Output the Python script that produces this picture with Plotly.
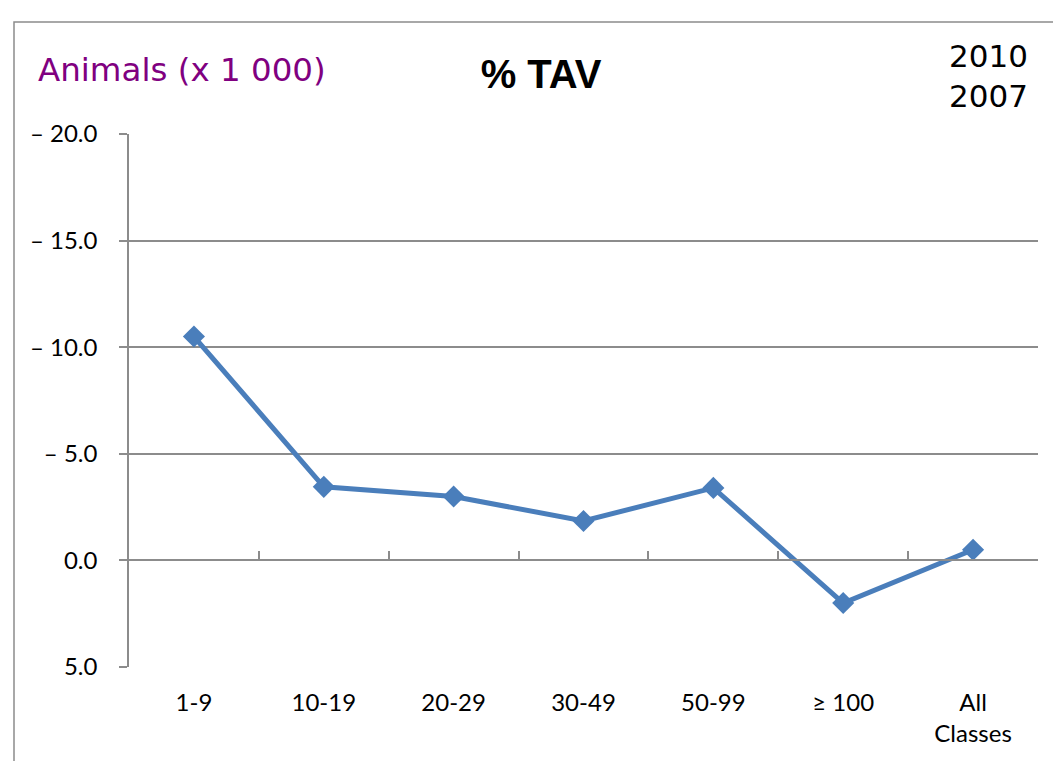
import plotly.graph_objects as go

categories = ["1-9", "10-19", "20-29", "30-49", "50-99", "≥ 100", "All<br>Classes"]
values = [-10.5, -3.45, -3.0, -1.85, -3.4, 2.0, -0.5]
ytick_vals = [-20, -15, -10, -5, 0, 5]
ytick_text = ["– 20.0", "– 15.0", "– 10.0", "– 5.0", "0.0", "5.0"]

tick_font = dict(family="Lato, Open Sans, sans-serif", size=24, color="black")

# page body has an 8px margin; figure is sized to fit inside the window
W, H = 1053, 753
L, R, T, B = 121, 23, 126, 94
PW, PH = W - L - R, H - T - B


def px_x(x):  # reference page x -> paper fraction
    return (x - 8 - L) / PW


def px_y(y):  # reference page y -> paper fraction
    return (H - B - (y - 8)) / PH


fig = go.Figure()
fig.add_trace(go.Scatter(
    x=list(range(len(categories))), y=values, mode="lines+markers",
    line=dict(color="#4a7ebb", width=5),
    marker=dict(symbol="diamond", size=17, color="#4a7ebb"),
    showlegend=False,
))
# secondary x-axis at y=0 with category-boundary ticks
fig.add_trace(go.Scatter(x=[0], y=[None], xaxis="x2", showlegend=False, hoverinfo="skip"))

fig.update_layout(
    width=W, height=H,
    margin=dict(l=L, r=R, t=T, b=B),
    paper_bgcolor="white", plot_bgcolor="white",
    xaxis=dict(
        range=[-0.5, len(categories) - 0.5],
        tickmode="array", tickvals=list(range(len(categories))), ticktext=categories,
        showgrid=False, showline=False, zeroline=False, ticks="",
        tickfont=tick_font, ticklabelstandoff=19,
    ),
    xaxis2=dict(
        range=[-0.5, len(categories) - 0.5], overlaying="x", anchor="free", position=0.2,
        side="bottom",
        tickmode="array", tickvals=[i + 0.5 for i in range(len(categories))],
        showticklabels=False, ticks="inside", ticklen=9, tickcolor="#8c8c8c", tickwidth=1.5,
        showline=True, linecolor="#8c8c8c", linewidth=1.5, showgrid=False, zeroline=False,
    ),
    yaxis=dict(
        range=[5, -20], tickmode="array", tickvals=ytick_vals, ticktext=ytick_text,
        showgrid=True, gridcolor="#8c8c8c", gridwidth=1.5,
        showline=True, linecolor="#8c8c8c", linewidth=1.5,
        ticks="outside", ticklen=8, tickcolor="#8c8c8c", tickwidth=1.5,
        zeroline=False, tickfont=tick_font, ticklabelstandoff=17,
    ),
    title=dict(text="<b>% TAV</b>", x=(541 - 8) / W, xanchor="center",
               y=1 - (74 - 8) / H, yanchor="middle",
               font=dict(family="Arial, Liberation Sans, sans-serif", size=40, color="black")),
    annotations=[
        dict(text="Animals (x 1 000)", xref="paper", yref="paper", x=px_x(36), y=px_y(70),
             xanchor="left", yanchor="middle", showarrow=False,
             font=dict(family="DejaVu Sans, Verdana, sans-serif", size=32.5, color="#800080")),
        dict(text="2010<br>2007", xref="paper", yref="paper", x=px_x(1030), y=px_y(76),
             xanchor="right", yanchor="middle", align="right", showarrow=False,
             font=dict(family="DejaVu Sans, Verdana, sans-serif", size=31, color="black")),
    ],
    shapes=[
        dict(type="rect", xref="paper", yref="paper",
             x0=px_x(14), x1=px_x(1080), y0=px_y(780), y1=px_y(22),
             line=dict(color="#8c8c8c", width=1.5), fillcolor="rgba(0,0,0,0)", layer="below"),
    ],
)

fig.write_html("out.html")
